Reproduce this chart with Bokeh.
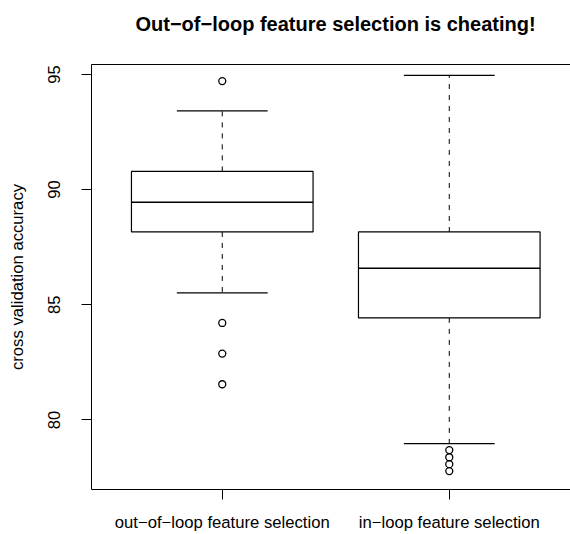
from bokeh.plotting import figure
from bokeh.models import Range1d, FixedTicker, LinearAxis, Title
from bokeh.embed import file_html
from bokeh.resources import INLINE

# ---- data ----
categories = ["out\u2212of\u2212loop feature selection", "in\u2212loop feature selection"]
positions = [1, 2]
whisker_low = [85.52, 78.97]
q1 = [88.16, 84.43]
median = [89.45, 86.58]
q3 = [90.79, 88.16]
whisker_high = [93.42, 94.96]
outliers_1 = [94.71, 84.21, 82.88, 81.55]
outliers_2 = [78.69, 78.38, 78.08, 77.78]
y_ticks = [80, 85, 90, 95]
title_text = "Out\u2212of\u2212loop feature selection is cheating!"
y_label = "cross validation accuracy"

FONT = "Liberation Sans"
BOX_W = 0.8
STAPLE_W = 0.4

p = figure(width=570, height=534, output_backend="svg", toolbar_location=None,
           x_range=Range1d(0.424, 2.534), y_range=Range1d(76.98, 95.43),
           min_border_left=91, min_border_right=0, min_border_top=64, min_border_bottom=42,
           tools="")
p.outline_line_color = None
p.xgrid.visible = False
p.ygrid.visible = False
p.background_fill_color = "white"
p.border_fill_color = "white"
p.title.text = ""

# axes
for ax in p.yaxis:
    ax.ticker = FixedTicker(ticks=y_ticks)
    ax.major_tick_out = 10
    ax.major_tick_in = 0
    ax.minor_tick_out = 0
    ax.minor_tick_in = 0
    ax.major_label_orientation = "vertical"
    ax.major_label_text_font = FONT
    ax.major_label_text_font_size = "16.67px"
    ax.major_label_text_color = "black"
    ax.major_label_standoff = 21
    ax.axis_label = y_label
    ax.axis_label_text_font = FONT
    ax.axis_label_text_font_size = "16.67px"
    ax.axis_label_text_font_style = "normal"
    ax.axis_label_text_color = "black"
    ax.axis_label_standoff = 19
    ax.axis_line_color = "black"
    ax.major_tick_line_color = "black"

for ax in p.xaxis:
    ax.ticker = FixedTicker(ticks=positions)
    ax.major_label_overrides = {pos: lab for pos, lab in zip(positions, categories)}
    ax.major_tick_out = 10
    ax.major_tick_in = 0
    ax.minor_tick_out = 0
    ax.minor_tick_in = 0
    ax.major_label_text_font = FONT
    ax.major_label_text_font_size = "16.67px"
    ax.major_label_text_color = "black"
    ax.major_label_standoff = 13
    ax.axis_line_color = "black"
    ax.major_tick_line_color = "black"

# top border line (an axis without ticks)
top_axis = LinearAxis(ticker=FixedTicker(ticks=[]), major_tick_out=0, major_tick_in=0,
                      minor_tick_out=0, minor_tick_in=0, major_label_text_font_size="0px",
                      major_label_standoff=0, axis_line_color="black")
p.add_layout(top_axis, "above")

# blank spacer between the top border and the title
spacer = Title(text=" ", text_font_size="1px", standoff=18)
p.add_layout(spacer, "above")

# title, stacked outside the spacer
title = Title(text=title_text, text_font=FONT, text_font_size="20px", text_font_style="bold",
              text_color="black", align="left", offset=44, standoff=18)
p.add_layout(title, "above")

# whiskers (dashed)
p.segment(x0=positions, x1=positions, y0=q3, y1=whisker_high, line_color="black",
          line_width=1, line_dash="5 6")
p.segment(x0=positions, x1=positions, y0=q1, y1=whisker_low, line_color="black",
          line_width=1, line_dash="5 6")
# staples
p.segment(x0=[x - STAPLE_W / 2 for x in positions], x1=[x + STAPLE_W / 2 for x in positions],
          y0=whisker_high, y1=whisker_high, line_color="black", line_width=1.2)
p.segment(x0=[x - STAPLE_W / 2 for x in positions], x1=[x + STAPLE_W / 2 for x in positions],
          y0=whisker_low, y1=whisker_low, line_color="black", line_width=1.2)
# boxes
p.quad(left=[x - BOX_W / 2 for x in positions], right=[x + BOX_W / 2 for x in positions],
       bottom=q1, top=q3, fill_color="white", line_color="black", line_width=1.2)
# medians
p.segment(x0=[x - BOX_W / 2 for x in positions], x1=[x + BOX_W / 2 for x in positions],
          y0=median, y1=median, line_color="black", line_width=1.5)
# outliers
p.scatter(x=[positions[0]] * len(outliers_1), y=outliers_1, marker="circle", size=7,
          fill_color=None, line_color="black", line_width=1.3)
p.scatter(x=[positions[1]] * len(outliers_2), y=outliers_2, marker="circle", size=7,
          fill_color=None, line_color="black", line_width=1.3)

open("out.html", "w").write(file_html(p, INLINE))
